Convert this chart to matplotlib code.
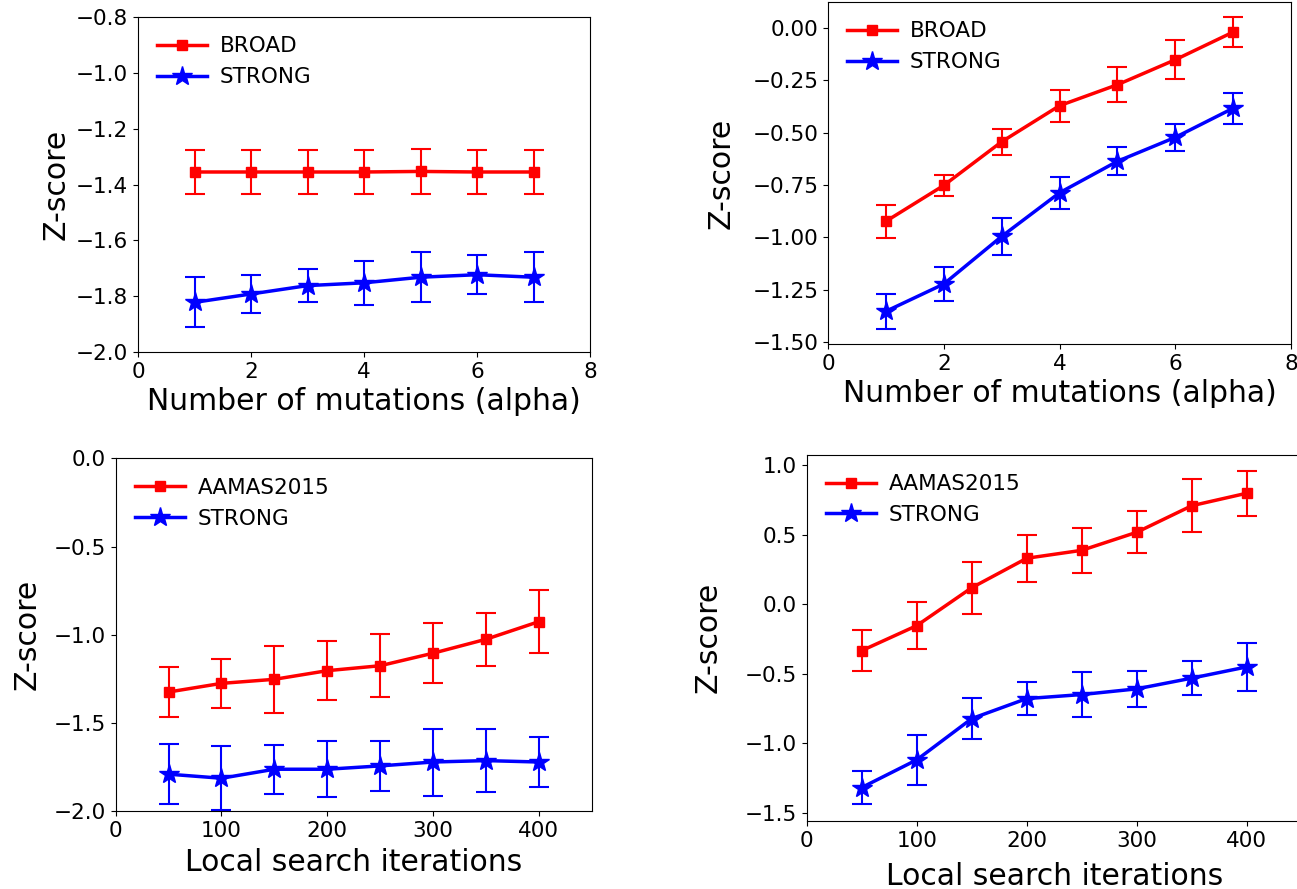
import matplotlib.pyplot as plt

# Datos
alpha = [1, 2, 3, 4, 5, 6, 7]
iters = [50, 100, 150, 200, 250, 300, 350, 400]

# panel 1 (arriba izquierda)
broad_1 = [-1.355, -1.355, -1.355, -1.355, -1.353, -1.355, -1.355]
broad_1_err = [0.08, 0.08, 0.08, 0.08, 0.08, 0.08, 0.08]
strong_1 = [-1.822, -1.792, -1.762, -1.752, -1.732, -1.723, -1.732]
strong_1_err = [0.09, 0.069, 0.06, 0.079, 0.09, 0.07, 0.09]

# panel 2 (arriba derecha)
broad_2 = [-0.923, -0.752, -0.544, -0.372, -0.272, -0.153, -0.021]
broad_2_err = [0.08, 0.05, 0.062, 0.076, 0.083, 0.092, 0.072]
strong_2 = [-1.352, -1.222, -0.995, -0.787, -0.637, -0.523, -0.384]
strong_2_err = [0.083, 0.083, 0.088, 0.077, 0.066, 0.064, 0.074]

# panel 3 (abajo izquierda)
aamas_3 = [-1.325, -1.276, -1.253, -1.204, -1.176, -1.105, -1.026, -0.926]
aamas_3_err = [0.139, 0.139, 0.19, 0.169, 0.18, 0.169, 0.15, 0.18]
strong_3 = [-1.791, -1.814, -1.763, -1.763, -1.744, -1.722, -1.714, -1.722]
strong_3_err = [0.17, 0.18, 0.14, 0.16, 0.14, 0.19, 0.18, 0.14]

# panel 4 (abajo derecha)
aamas_4 = [-0.334, -0.154, 0.119, 0.331, 0.388, 0.518, 0.709, 0.799]
aamas_4_err = [0.149, 0.169, 0.188, 0.169, 0.161, 0.15, 0.19, 0.162]
strong_4 = [-1.319, -1.12, -0.823, -0.679, -0.650, -0.609, -0.532, -0.451]
strong_4_err = [0.12, 0.179, 0.15, 0.12, 0.16, 0.13, 0.12, 0.17]

fig = plt.figure(figsize=(12.97, 8.89), dpi=100)

ax1 = fig.add_axes([0.1064, 0.6040, 0.3485, 0.3768])
ax2 = fig.add_axes([0.6384, 0.6130, 0.3570, 0.3847])
ax3 = fig.add_axes([0.0892, 0.0877, 0.3670, 0.3967])
ax4 = fig.add_axes([0.6220, 0.0765, 0.3817, 0.4120])


def dibujar(ax, x, y_r, e_r, lab_r, y_b, e_b, lab_b, ypad=4):
    # barras de error primero, luego líneas con marcadores (la leyenda sin barras)
    ax.errorbar(x, y_r, yerr=e_r, fmt='none', ecolor='red',
                elinewidth=1.5, capsize=7, capthick=1.5)
    ax.plot(x, y_r, color='red', marker='s', markersize=7,
            linewidth=2.5, label=lab_r)
    ax.errorbar(x, y_b, yerr=e_b, fmt='none', ecolor='blue',
                elinewidth=1.5, capsize=7, capthick=1.5)
    ax.plot(x, y_b, color='blue', marker='*', markersize=15,
            linewidth=2.5, label=lab_b)
    ax.legend(loc='upper left', frameon=False, fontsize=15.5,
              handlelength=2.3, handletextpad=0.6)
    ax.set_ylabel('Z-score', fontsize=21.5, labelpad=ypad)
    ax.tick_params(labelsize=15.5)


dibujar(ax1, alpha, broad_1, broad_1_err, 'BROAD', strong_1, strong_1_err, 'STRONG')
ax1.set_xlim(0, 8)
ax1.set_ylim(-2.0, -0.8)
ax1.set_xlabel('Number of mutations (alpha)', fontsize=21.5)

dibujar(ax2, alpha, broad_2, broad_2_err, 'BROAD', strong_2, strong_2_err, 'STRONG', ypad=12)
ax2.set_xlim(0, 8)
ax2.set_ylim(-1.508, 0.122)
ax2.set_yticks([-1.5, -1.25, -1.0, -0.75, -0.5, -0.25, 0.0])
ax2.set_yticklabels(['\u22121.50', '\u22121.25', '\u22121.00', '\u22120.75',
                     '\u22120.50', '\u22120.25', '0.00'])
ax2.set_xlabel('Number of mutations (alpha)', fontsize=21.5)

dibujar(ax3, iters, aamas_3, aamas_3_err, 'AAMAS2015', strong_3, strong_3_err, 'STRONG', ypad=9)
ax3.set_xlim(0, 450)
ax3.set_ylim(-2.0, 0.0)
ax3.set_xticks([0, 100, 200, 300, 400])
ax3.set_yticks([-2.0, -1.5, -1.0, -0.5, 0.0])
ax3.set_xlabel('Local search iterations', fontsize=21.5, labelpad=5)

dibujar(ax4, iters, aamas_4, aamas_4_err, 'AAMAS2015', strong_4, strong_4_err, 'STRONG', ypad=16)
ax4.set_xlim(0, 450)
ax4.set_ylim(-1.56, 1.076)
ax4.set_xticks([0, 100, 200, 300, 400])
ax4.set_xlabel('Local search iterations', fontsize=21.5, labelpad=8)

fig.savefig('out.png', dpi=100)
